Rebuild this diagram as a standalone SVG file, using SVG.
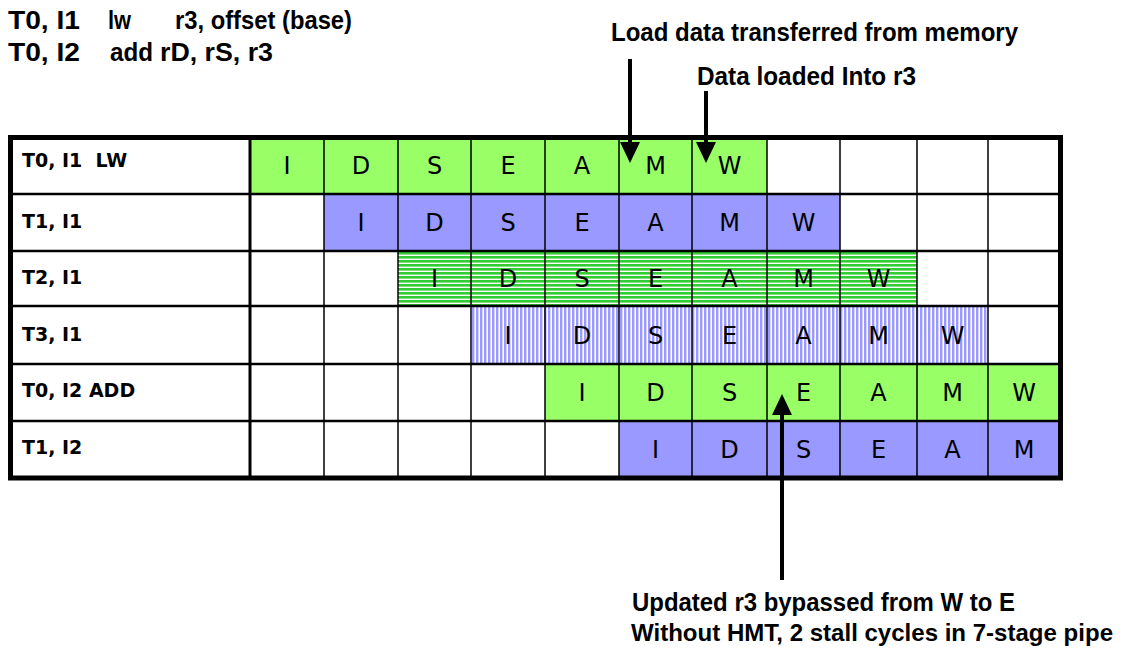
<svg xmlns="http://www.w3.org/2000/svg" width="1122" height="655" viewBox="0 0 1122 655">
<style>
.hd{font-family:"Liberation Sans",Arial,sans-serif;font-weight:bold;font-size:26px;fill:#000}
.ft{font-size:24px}
.lb{font-family:"DejaVu Sans",Verdana,sans-serif;font-weight:bold;font-size:19px;fill:#000;white-space:pre}
.st{font-family:"DejaVu Sans",Verdana,sans-serif;font-size:24px;fill:#000;text-anchor:middle}
.g{fill:#99ff66}
.b{fill:#9999ff}
.gs{fill:url(#hg)}
.bs{fill:url(#vb)}
.thin{stroke:#000;stroke-width:1.5}
.row{stroke:#000;stroke-width:2.5}
.arr{stroke:#000;stroke-width:4;fill:none;marker-end:url(#ah)}
</style>
<defs>
<pattern id="hg" width="8" height="4" patternUnits="userSpaceOnUse"><rect width="8" height="4" fill="#fff"/><rect width="8" height="2.6" fill="#33cc33"/></pattern>
<pattern id="vb" width="4" height="8" patternUnits="userSpaceOnUse"><rect width="4" height="8" fill="#fff"/><rect width="2.4" height="8" fill="#9999ff"/></pattern>
<marker id="ah" markerUnits="userSpaceOnUse" markerWidth="21" markerHeight="20" refX="0" refY="10" orient="auto"><path d="M0,0 L21,10 L0,20 z" fill="#000"/></marker>
</defs>
<rect width="1122" height="655" fill="#fff"/>
<g id="header">
<text class="hd" x="8" y="29" textLength="72" lengthAdjust="spacingAndGlyphs">T0, I1</text>
<text class="hd" x="108" y="29" textLength="23" lengthAdjust="spacingAndGlyphs">lw</text>
<text class="hd" x="175" y="29" textLength="177" lengthAdjust="spacingAndGlyphs">r3, offset (base)</text>
<text class="hd" x="8" y="61" textLength="72" lengthAdjust="spacingAndGlyphs">T0, I2</text>
<text class="hd" x="110" y="61" textLength="43" lengthAdjust="spacingAndGlyphs">add</text>
<text class="hd" x="160" y="61" textLength="113" lengthAdjust="spacingAndGlyphs">rD, rS, r3</text>
</g>
<g id="table">
<g id="row1">
<rect class="g" x="250" y="137" width="517" height="57"/>
<text class="st" x="287" y="174">I</text><text class="st" x="361" y="174">D</text><text class="st" x="434.5" y="174">S</text><text class="st" x="508" y="174">E</text><text class="st" x="582" y="174">A</text><text class="st" x="655.5" y="174">M</text><text class="st" x="729.5" y="174">W</text>
</g>
<g id="row2">
<rect class="b" x="324" y="194" width="516" height="57"/>
<text class="st" x="361" y="231">I</text><text class="st" x="434.5" y="231">D</text><text class="st" x="508" y="231">S</text><text class="st" x="582" y="231">E</text><text class="st" x="655.5" y="231">A</text><text class="st" x="729.5" y="231">M</text><text class="st" x="803.5" y="231">W</text>
</g>
<g id="row3">
<rect class="gs" x="398" y="251" width="519" height="55"/>
<text class="st" x="434.5" y="287">I</text><text class="st" x="508" y="287">D</text><text class="st" x="582" y="287">S</text><text class="st" x="655.5" y="287">E</text><text class="st" x="729.5" y="287">A</text><text class="st" x="803.5" y="287">M</text><text class="st" x="878.5" y="287">W</text>
</g>
<g id="row4">
<rect class="bs" x="471" y="306" width="517" height="58"/>
<text class="st" x="508" y="344">I</text><text class="st" x="582" y="344">D</text><text class="st" x="655.5" y="344">S</text><text class="st" x="729.5" y="344">E</text><text class="st" x="803.5" y="344">A</text><text class="st" x="878.5" y="344">M</text><text class="st" x="952.5" y="344">W</text>
</g>
<g id="row5">
<rect class="g" x="545" y="364" width="515" height="57"/>
<text class="st" x="582" y="401">I</text><text class="st" x="655.5" y="401">D</text><text class="st" x="729.5" y="401">S</text><text class="st" x="803.5" y="401">E</text><text class="st" x="878.5" y="401">A</text><text class="st" x="952.5" y="401">M</text><text class="st" x="1024" y="401">W</text>
</g>
<g id="row6">
<rect class="b" x="619" y="421" width="441" height="57"/>
<text class="st" x="655.5" y="458">I</text><text class="st" x="729.5" y="458">D</text><text class="st" x="803.5" y="458">S</text><text class="st" x="878.5" y="458">E</text><text class="st" x="952.5" y="458">A</text><text class="st" x="1024" y="458">M</text>
</g>
<g id="grid">
<path class="thin" d="M324,137V478M398,137V478M471,137V478M545,137V478M619,137V478M692,137V478M767,137V478M840,137V478M917,137V478M988,137V478"/>
<path class="row" d="M11,194H1060M11,251H1060M11,306H1060M11,364H1060M11,421H1060"/>
<path stroke="#000" stroke-width="3" d="M250,137V478"/>
<rect x="10.5" y="137.5" width="1050" height="340.5" fill="none" stroke="#000" stroke-width="5"/>
</g>
<g id="labels">
<text class="lb" x="22" y="167" xml:space="preserve">T0, I1  LW</text>
<text class="lb" x="22" y="228">T1, I1</text>
<text class="lb" x="22" y="284">T2, I1</text>
<text class="lb" x="22" y="341">T3, I1</text>
<text class="lb" x="22" y="397">T0, I2 ADD</text>
<text class="lb" x="22" y="454">T1, I2</text>
</g>
</g>
<g id="annotations">
<text class="hd" x="611" y="41" textLength="407" lengthAdjust="spacingAndGlyphs">Load data transferred from memory</text>
<text class="hd" x="697" y="85" textLength="219" lengthAdjust="spacingAndGlyphs">Data loaded Into r3</text>
<text class="hd" x="632" y="611" textLength="383" lengthAdjust="spacingAndGlyphs">Updated r3 bypassed from W to E</text>
<text class="hd ft" x="631" y="641" textLength="482" lengthAdjust="spacingAndGlyphs">Without HMT, 2 stall cycles in 7-stage pipe</text>
</g>
<g id="connectors">
<line class="arr" x1="630" y1="59" x2="630" y2="142"/>
<line class="arr" x1="706" y1="91" x2="706" y2="142"/>
<line class="arr" x1="782" y1="580" x2="782" y2="415"/>
</g>
</svg>
